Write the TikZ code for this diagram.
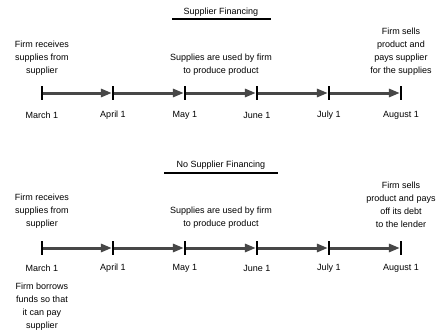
\documentclass[tikz,border=0pt]{standalone}
\usepackage{fontspec}
\setmainfont{Liberation Sans}
\usetikzlibrary{arrows.meta}
\begin{document}
\begin{tikzpicture}[x=1pt,y=-1pt,
  txt/.style={font=\fontsize{9}{13}\selectfont, align=center, inner sep=0pt},
  ttl/.style={font=\fontsize{9}{13}\selectfont, inner sep=0pt},
  tickmark/.style={fill=black, inner sep=0pt, minimum width=1.8pt, minimum height=14pt},
  arr/.style={draw=black!72, line width=3pt, -{Triangle[length=11pt,width=8pt]}, shorten <=-0.5pt},
  uline/.style={line width=1.8pt}]
\useasboundingbox (0,0) rectangle (442,335);
\fill[white] (0,0) rectangle (442,335);
% ---------- Supplier Financing ----------
\node[ttl] (t1) at (221,12) {Supplier Financing};
\coordinate (u1a) at (172,19); \coordinate (u1b) at (271,19);
\draw[uline] (u1a) -- (u1b);
\foreach \i/\x in {1/42,2/113,3/185,4/257,5/329,6/401}{
  \node[tickmark] (a\i) at (\x,93) {};
}
\foreach \i/\j in {1/2,2/3,3/4,4/5,5/6}{
  \draw[arr] (a\i) -- (a\j);
}
\foreach \i/\x/\t in {1/42/March 1,2/113/April 1,3/185/May 1,4/257/June 1,5/329/July 1,6/401/August 1}{
  \node[txt] (da\i) at (\x,115) {\t};
}
\node[txt] (la) at (42,58) {Firm receives\\supplies from\\supplier};
\node[txt] (ma) at (221,64.5) {Supplies are used by firm\\to produce product};
\node[txt] (ra) at (401,51.5) {Firm sells\\product and\\pays supplier\\for the supplies};
% ---------- No Supplier Financing ----------
\node[ttl] (t2) at (221,165) {No Supplier Financing};
\coordinate (u2a) at (164,173); \coordinate (u2b) at (278,173);
\draw[uline] (u2a) -- (u2b);
\foreach \i/\x in {1/42,2/113,3/185,4/257,5/329,6/401}{
  \node[tickmark] (b\i) at (\x,248) {};
}
\foreach \i/\j in {1/2,2/3,3/4,4/5,5/6}{
  \draw[arr] (b\i) -- (b\j);
}
\foreach \i/\x/\t in {1/42/March 1,2/113/April 1,3/185/May 1,4/257/June 1,5/329/July 1,6/401/August 1}{
  \node[txt] (db\i) at (\x,268) {\t};
}
\node[txt] (lb) at (42,211) {Firm receives\\supplies from\\supplier};
\node[txt] (mb) at (221,217.5) {Supplies are used by firm\\to produce product};
\node[txt] (rb) at (401,204.5) {Firm sells\\product and pays\\off its debt\\to the lender};
\node[txt] (bb) at (42,306.5) {Firm borrows\\funds so that\\it can pay\\supplier};
\end{tikzpicture}
\end{document}
